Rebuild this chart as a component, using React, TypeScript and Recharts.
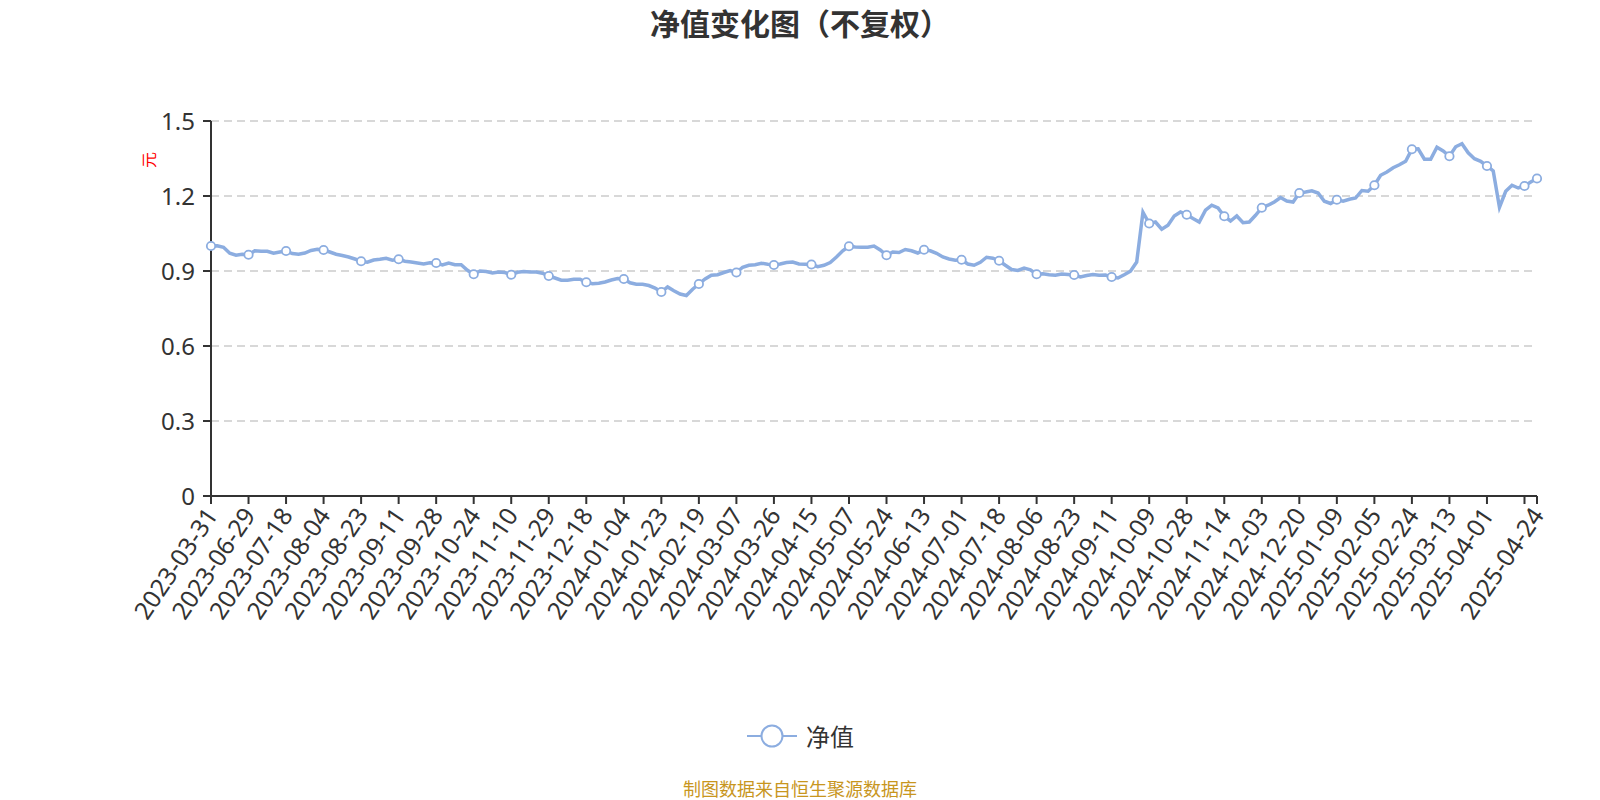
import React from 'react';
import { LineChart, Line, XAxis, YAxis, CartesianGrid } from 'recharts';

// Labelled dates (one every 6 plotted points; the unlabelled tick before the last date is hidden in the source)
const tickLabels = [
  '2023-03-31', '2023-06-29', '2023-07-18', '2023-08-04', '2023-08-23', '2023-09-11',
  '2023-09-28', '2023-10-24', '2023-11-10', '2023-11-29', '2023-12-18', '2024-01-04',
  '2024-01-23', '2024-02-19', '2024-03-07', '2024-03-26', '2024-04-15', '2024-05-07',
  '2024-05-24', '2024-06-13', '2024-07-01', '2024-07-18', '2024-08-06', '2024-08-23',
  '2024-09-11', '2024-10-09', '2024-10-28', '2024-11-14', '2024-12-03', '2024-12-20',
  '2025-01-09', '2025-02-05', '2025-02-24', '2025-03-13', '2025-04-01', '', '2025-04-24',
];

const POINTS_PER_TICK = 6;

// Net value (元)
const navValues = [
  1.000, 1.001, 0.995, 0.971, 0.963, 0.967,
  0.965, 0.981, 0.979, 0.979, 0.971, 0.976,
  0.980, 0.970, 0.967, 0.972, 0.982, 0.987,
  0.984, 0.976, 0.967, 0.962, 0.956, 0.948,
  0.939, 0.935, 0.944, 0.947, 0.951, 0.943,
  0.947, 0.939, 0.936, 0.932, 0.928, 0.933,
  0.932, 0.924, 0.932, 0.925, 0.925, 0.903,
  0.887, 0.900, 0.898, 0.892, 0.896, 0.894,
  0.885, 0.895, 0.898, 0.896, 0.896, 0.891,
  0.880, 0.872, 0.863, 0.863, 0.867, 0.867,
  0.855, 0.849, 0.851, 0.856, 0.864, 0.870,
  0.868, 0.853, 0.847, 0.847, 0.842, 0.832,
  0.816, 0.836, 0.821, 0.808, 0.802, 0.827,
  0.848, 0.868, 0.883, 0.885, 0.894, 0.902,
  0.894, 0.915, 0.923, 0.925, 0.931, 0.927,
  0.924, 0.928, 0.934, 0.936, 0.928, 0.927,
  0.926, 0.917, 0.923, 0.934, 0.956, 0.981,
  0.999, 0.996, 0.995, 0.995, 1.000, 0.984,
  0.963, 0.976, 0.974, 0.986, 0.981, 0.972,
  0.985, 0.981, 0.971, 0.956, 0.948, 0.943,
  0.945, 0.928, 0.923, 0.935, 0.955, 0.951,
  0.941, 0.923, 0.906, 0.902, 0.912, 0.905,
  0.887, 0.889, 0.885, 0.883, 0.888, 0.886,
  0.884, 0.876, 0.882, 0.886, 0.883, 0.884,
  0.876, 0.872, 0.885, 0.899, 0.936, 1.135,
  1.090, 1.096, 1.067, 1.083, 1.120, 1.136,
  1.125, 1.110, 1.096, 1.143, 1.163, 1.152,
  1.119, 1.100, 1.120, 1.093, 1.096, 1.123,
  1.153, 1.163, 1.176, 1.194, 1.180, 1.176,
  1.212, 1.216, 1.221, 1.212, 1.179, 1.170,
  1.185, 1.179, 1.187, 1.192, 1.222, 1.219,
  1.243, 1.283, 1.296, 1.313, 1.325, 1.339,
  1.387, 1.389, 1.347, 1.347, 1.395, 1.380,
  1.359, 1.397, 1.409, 1.373, 1.349, 1.339,
  1.320, 1.300, 1.155, 1.219, 1.243, 1.232,
  1.240, 1.256, 1.270,
];

const yTicks = [0, 0.3, 0.6, 0.9, 1.2, 1.5];

const LAST = navValues.length - 1;
const tickIndex = tickLabels.map((_, k) =>
  k === tickLabels.length - 1 ? LAST : k * POINTS_PER_TICK
);
const labelByIndex: Record<number, string> = {};
tickIndex.forEach((idx, k) => { labelByIndex[idx] = tickLabels[k]; });

const data = navValues.map((v, i) => ({ i, nav: v }));

const LINE_COLOR = '#8cade0';
const FONT = "'Noto Sans', 'Noto Sans CJK SC', sans-serif";

const XTick = (props: any) => {
  const { x, y, payload } = props;
  const label = labelByIndex[payload.value] ?? '';
  if (!label) return <g />;
  const ty = y + 4;
  return (
    <text
      x={x}
      y={ty}
      textAnchor="end"
      dominantBaseline="central"
      transform={`rotate(-56, ${x}, ${ty})`}
      fontSize={24.5}
      fill="#333"
      fontFamily={FONT}
    >
      {label}
    </text>
  );
};

const renderDot = (props: any) => {
  const { cx, cy, index } = props;
  if (index % POINTS_PER_TICK === 0 || index === LAST) {
    return (
      <circle key={`d${index}`} cx={cx} cy={cy} r={4.2} fill="#fff" stroke={LINE_COLOR} strokeWidth={1.8} />
    );
  }
  return <g key={`d${index}`} />;
};

export default function App() {
  return (
    <div style={{ position: 'absolute', left: 0, top: 0, width: 1600, height: 800, background: '#fff', fontFamily: FONT }}>
      <LineChart
        width={1600}
        height={800}
        data={data}
        margin={{ top: 121, right: 63, bottom: 154, left: 151 }}
      >
        <CartesianGrid vertical={false} stroke="#cccccc" strokeDasharray="8 5" strokeWidth={1.5} />
        <XAxis
          dataKey="i"
          type="number"
          domain={[0, LAST]}
          ticks={tickIndex}
          interval={0}
          height={150}
          tickSize={8}
          axisLine={{ stroke: '#333', strokeWidth: 2 }}
          tickLine={{ stroke: '#333', strokeWidth: 2 }}
          tick={<XTick />}
        />
        <YAxis
          type="number"
          domain={[0, 1.5]}
          ticks={yTicks}
          interval={0}
          width={60}
          tickSize={8}
          tickMargin={8}
          axisLine={{ stroke: '#333', strokeWidth: 2 }}
          tickLine={{ stroke: '#333', strokeWidth: 2 }}
          tick={{ fontSize: 24, fill: '#333', fontFamily: FONT }}
          tickFormatter={(v: number) => (v === 0 ? '0' : v.toFixed(1))}
        />
        <Line
          type="linear"
          dataKey="nav"
          stroke={LINE_COLOR}
          strokeWidth={3.5}
          dot={renderDot}
          activeDot={false}
          isAnimationActive={false}
        />
      </LineChart>
      <svg width={1600} height={800} style={{ position: 'absolute', left: 0, top: 0, pointerEvents: 'none' }}>
        <text x={800} y={23} textAnchor="middle" dominantBaseline="central" fontSize={30} fontWeight={700} fill="#333" fontFamily={FONT}>
          净值变化图（不复权）
        </text>
        <text x={149} y={160} textAnchor="middle" dominantBaseline="central" fontSize={16} fill="#ff0000" fontFamily={FONT} transform="rotate(-90, 149, 160)">
          元
        </text>
        <line x1={747} y1={736} x2={797} y2={736} stroke={LINE_COLOR} strokeWidth={2} />
        <circle cx={772} cy={736} r={10.5} fill="#fff" stroke={LINE_COLOR} strokeWidth={2} />
        <text x={806} y={736} dominantBaseline="central" fontSize={24} fill="#333" fontFamily={FONT}>
          净值
        </text>
        <text x={800} y={789} textAnchor="middle" dominantBaseline="central" fontSize={18} fill="#c8961e" fontFamily={FONT}>
          制图数据来自恒生聚源数据库
        </text>
      </svg>
    </div>
  );
}
